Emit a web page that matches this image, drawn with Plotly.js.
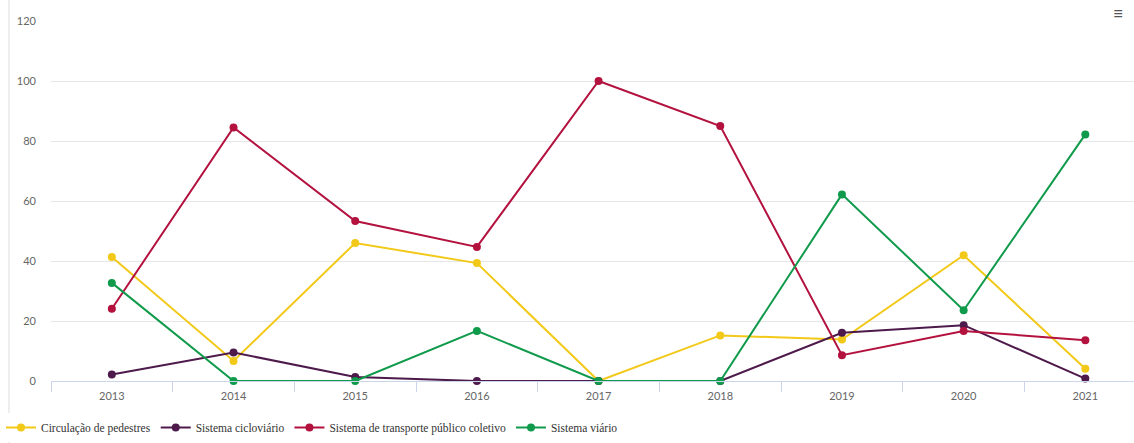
<!DOCTYPE html>
<html>
<head>
<meta charset="utf-8">
<script src="https://cdn.plot.ly/plotly-3.0.1.min.js"></script>
<style>html,body{margin:0;padding:0;background:#fff;}#chart{width:1134px;height:443px;}</style>
</head>
<body>
<div id="chart"></div>
<script>
const years = ["2013","2014","2015","2016","2017","2018","2019","2020","2021"];
const seriesNames = ["Circulação de pedestres","Sistema cicloviário","Sistema de transporte público coletivo","Sistema viário"];
const pedestres = [41.3, 6.7, 46, 39.3, 0, 15.2, 13.8, 41.9, 4.1];
const cicloviario = [2.2, 9.5, 1.3, 0, 0, 0, 16.1, 18.6, 0.8];
const transporte = [24.1, 84.5, 53.3, 44.7, 100, 85, 8.6, 16.7, 13.6];
const viario = [32.7, 0, 0, 16.7, 0, 0, 62.2, 23.6, 82.2];
const colors = ["#f2c919", "#4d1a4b", "#b3123f", "#109a4b"];
const values = [pedestres, cicloviario, transporte, viario];

const traces = values.map((v, i) => ({
  type: "scatter",
  mode: "lines+markers",
  name: seriesNames[i],
  x: years,
  y: v,
  line: {color: colors[i], width: 2},
  marker: {color: colors[i], size: 8},
  cliponaxis: false
}));

const L = 51, W = 1134, T = 21, H = 360;
const px = x => (x - L) / (W - L);
const py = y => 1 - (y - T) / H;

const layout = {
  width: 1134, height: 443,
  margin: {l: L, r: 0, t: T, b: 62, pad: 0},
  paper_bgcolor: "#fff", plot_bgcolor: "#fff",
  font: {family: "Lato, 'Open Sans', sans-serif", color: "#666", size: 11},
  showlegend: true,
  legend: {
    orientation: "h", x: px(1), xanchor: "left",
    y: py(413), yanchor: "top",
    font: {family: "'Liberation Serif', serif", size: 11.5, color: "#333"},
    itemwidth: 30, tracegroupgap: 0
  },
  xaxis: {
    type: "category",
    range: [-0.5, 8.4],
    showgrid: false,
    zeroline: false,
    showline: true, linecolor: "#ccd6eb", linewidth: 1,
    ticks: "outside", tickson: "boundaries", ticklen: 10, tickcolor: "#ccd6eb", tickwidth: 1,
    ticklabelstandoff: 5,
    tickfont: {size: 11, color: "#666"},
    automargin: false,
    fixedrange: true
  },
  yaxis: {
    range: [0, 120],
    tickvals: [0, 20, 40, 60, 80, 100, 120],
    showgrid: true, gridcolor: "#e6e6e6", gridwidth: 1,
    zeroline: false, showline: false,
    ticks: "", ticklabelstandoff: 14,
    tickfont: {size: 11, color: "#666"},
    automargin: false,
    fixedrange: true
  },
  shapes: [
    {type: "line", xref: "paper", yref: "paper", x0: px(9), x1: px(9), y0: -0.2, y1: 1.1,
     line: {color: "#dddddd", width: 1}}
  ],
  annotations: [
    {xref: "paper", yref: "paper", x: px(1118), y: py(13), text: "≡", showarrow: false,
     font: {size: 18, color: "#555"}, xanchor: "center", yanchor: "middle", bgcolor: "#fff"}
  ]
};

Plotly.newPlot("chart", traces, layout, {displayModeBar: false, responsive: false});
</script>
</body>
</html>
